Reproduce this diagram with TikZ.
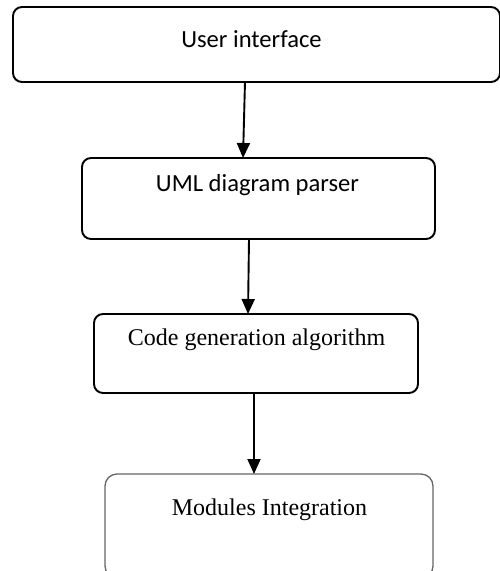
\documentclass[tikz,border=0pt]{standalone}
\usepackage{fontspec}
\setmainfont{Liberation Serif}
\newfontfamily\calibrilike{Carlito}
\usetikzlibrary{arrows.meta}

\tikzset{
  stagebox/.style={draw=black, line width=1.9pt, rounded corners=9pt,
    inner sep=0pt, outer sep=0pt, fill=white},
  softbox/.style={draw=black!60, line width=1.3pt, rounded corners=12pt,
    inner sep=0pt, outer sep=0pt, fill=white},
  sanslabel/.style={font=\calibrilike\fontsize{24.6}{29}\selectfont, inner sep=0pt},
  seriflabel/.style={font=\fontsize{24}{29}\selectfont, inner sep=0pt},
  flow/.style={line width=1.9pt, -{Triangle[length=15pt,width=13pt]}},
}

\begin{document}
\begin{tikzpicture}[x=1pt, y=-1pt]
  \useasboundingbox[fill=white] (0,0) rectangle (499,571);

  % processing stages
  \node[stagebox, minimum width=487pt, minimum height=75pt] (ui) at (256.5,44.5) {};
  \node[stagebox, minimum width=353pt, minimum height=81pt] (uml) at (258.5,198.5) {};
  \node[stagebox, minimum width=324pt, minimum height=79pt] (gen) at (256,353.5) {};
  \node[softbox,  minimum width=328pt, minimum height=104pt] (mod) at (269,526) {};

  % stage captions
  \node[sanslabel]  (uiT)  at (251.5,39.5)  {User interface};
  \node[sanslabel]  (umlT) at (257.5,185.5) {UML diagram parser};
  \node[seriflabel] (genT) at (256.5,340) {Code generation algorithm};
  \node[seriflabel] (modT) at (269.5,510) {Modules Integration};

  % flow between stages
  \draw[flow] ([xshift=-11.5pt]ui.south)  -- ([xshift=-15.5pt]uml.north);
  \draw[flow] ([xshift=-9.5pt]uml.south)  -- ([xshift=-8pt]gen.north);
  \draw[flow] ([xshift=-2pt]gen.south)    -- ([xshift=-15pt]mod.north);
\end{tikzpicture}
\end{document}
